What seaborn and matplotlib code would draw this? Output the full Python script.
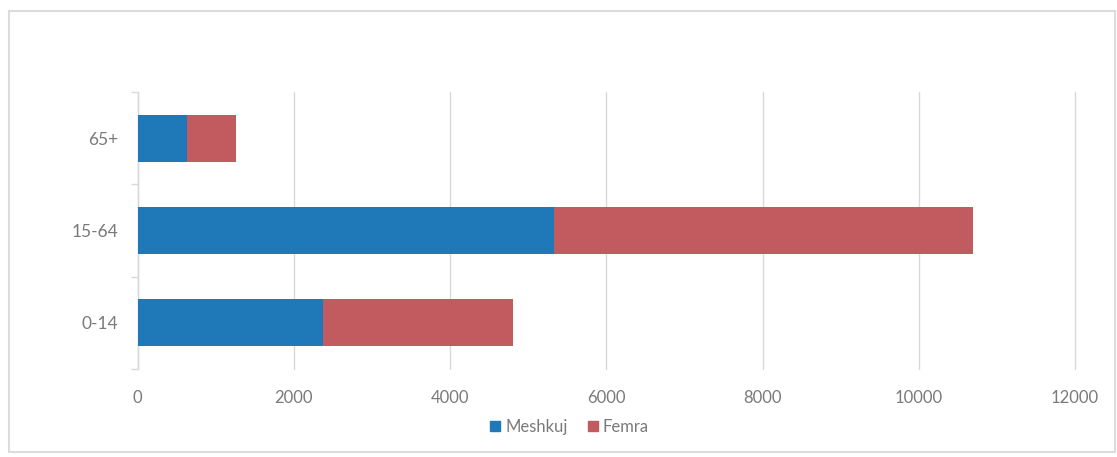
import pandas as pd
import matplotlib.pyplot as plt
import seaborn as sns
from matplotlib.patches import Rectangle, Patch

# Age groups (top to bottom as displayed) and population by sex
age_groups = ['65+', '15-64', '0-14']
meshkuj = [634, 5326, 2374]
femra = [627, 5373, 2426]

df = pd.DataFrame({'group': age_groups, 'Meshkuj': meshkuj, 'Femra': femra})
df['total'] = df['Meshkuj'] + df['Femra']

blue = '#1f78b8'
red = '#c25b60'
text_gray = '#7a7a7a'
grid_gray = '#d9d9d9'

sns.set_theme(style='white')
plt.rcParams['font.family'] = ['Lato', 'DejaVu Sans']

fig = plt.figure(figsize=(11.17, 4.57), dpi=100)
ax = fig.add_axes([0.1231, 0.1926, 0.8393, 0.606])

# stacked: total drawn in red, male part on top in blue
sns.barplot(data=df, y='group', x='total', order=age_groups, color=red,
            orient='h', width=0.51, saturation=1, linewidth=0, ax=ax, zorder=3)
sns.barplot(data=df, y='group', x='Meshkuj', order=age_groups, color=blue,
            orient='h', width=0.51, saturation=1, linewidth=0, ax=ax, zorder=4)

ax.set_xlim(0, 12000)
ax.set_xticks(range(0, 12001, 2000))
ax.set_ylim(2.5, -0.5)
ax.set_xlabel('')
ax.set_ylabel('')

ax.grid(axis='x', color=grid_gray, linewidth=1)
ax.grid(axis='y', visible=False)
for gl in ax.get_xgridlines():
    gl.set_clip_on(False)
ax.set_axisbelow(True)
for side in ['top', 'right', 'bottom']:
    ax.spines[side].set_visible(False)
ax.spines['left'].set_color(grid_gray)
ax.spines['left'].set_linewidth(1)

ax.tick_params(axis='x', length=0, labelsize=12, labelcolor=text_gray, pad=15)
ax.tick_params(axis='y', length=0, labelsize=12.5, labelcolor=text_gray, pad=14)

# small category separator ticks on the y axis
ax.set_yticks([-0.5, 0.5, 1.5, 2.5], minor=True)
ax.tick_params(axis='y', which='minor', length=5, color=grid_gray, width=1, left=True)

handles = [Patch(color=blue, label='Meshkuj'), Patch(color=red, label='Femra')]
fig.legend(handles=handles, loc='center', bbox_to_anchor=(0.51, 0.066), ncol=2,
           frameon=False, fontsize=12, labelcolor=text_gray,
           handlelength=0.6, handleheight=0.6, handletextpad=0.3, columnspacing=1.2)

# outer chart frame
fig.patches.append(Rectangle((0.008, 0.01), 0.99, 0.966, transform=fig.transFigure,
                             fill=False, edgecolor='#dcdcdc', linewidth=1.5))

fig.savefig('out.png', dpi=100)
